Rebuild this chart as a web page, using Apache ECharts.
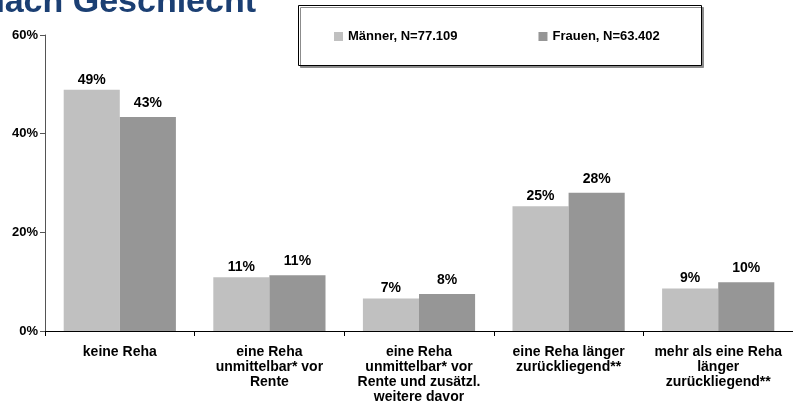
<!DOCTYPE html>
<html>
<head>
<meta charset="utf-8">
<script src="https://cdn.jsdelivr.net/npm/echarts@6/dist/echarts.min.js"></script>
<style>
html,body{margin:0;padding:0;background:#fff;}
#chart{width:793px;height:408px;}
</style>
</head>
<body>
<div id="chart"></div>
<script>
var categories = [
  "keine Reha",
  "eine Reha\nunmittelbar* vor\nRente",
  "eine Reha\nunmittelbar* vor\nRente und zusätzl.\nweitere davor",
  "eine Reha länger\nzurückliegend**",
  "mehr als eine Reha\nlänger\nzurückliegend**"
];
var seriesNames = ["Männer, N=77.109", "Frauen, N=63.402"];
var maenner = [48.9, 10.9, 6.6, 25.3, 8.6];
var frauen = [43.4, 11.3, 7.5, 28.0, 9.9];
var yTicks = [0, 20, 40, 60];
var titleText = "nach Geschlecht";

var FONT = "'Liberation Sans', Arial, sans-serif";
var chart = echarts.init(document.getElementById('chart'), null, {renderer: 'canvas'});

function lbl(dist) {
  return {
    show: true, position: 'top', distance: dist,
    fontFamily: FONT, fontWeight: 'bold', fontSize: 14, color: '#000',
    formatter: function (p) { return Math.round(p.value) + '%'; }
  };
}

var option = {
  animation: false,
  backgroundColor: '#fff',
  textStyle: {fontFamily: FONT},
  graphic: [
    {
      type: 'text', z: 10,
      style: {
        text: titleText, x: 256, y: 20, align: 'right', verticalAlign: 'bottom',
        font: 'bold 34px ' + FONT, fill: '#1b3f73'
      }
    },
    {
      type: 'rect', z: 0,
      shape: {x: 298.5, y: 5.5, width: 403, height: 60},
      style: {fill: '#fff', stroke: '#000', lineWidth: 1,
        shadowColor: '#8c8c8c', shadowOffsetX: 2, shadowOffsetY: 2, shadowBlur: 0}
    }
  ],
  legend: {
    data: seriesNames,
    left: 334, top: 30, z: 20,
    padding: 0,
    itemWidth: 9, itemHeight: 9, itemGap: 81,
    icon: 'rect',
    textStyle: {fontFamily: FONT, fontWeight: 'bold', fontSize: 13, color: '#000', padding: [0, 0, 0, 0]}
  },
  grid: {left: 45, top: 35, width: 753, height: 296, containLabel: false},
  xAxis: {
    type: 'category',
    data: categories,
    axisLine: {lineStyle: {color: '#000', width: 1}},
    axisTick: {show: true, length: 5, lineStyle: {color: '#000'}},
    axisLabel: {
      interval: 0, margin: 14, lineHeight: 15,
      fontFamily: FONT, fontWeight: 'bold', fontSize: 14, color: '#000', align: 'center'
    }
  },
  yAxis: {
    type: 'value', min: 0, max: 60, interval: 20,
    axisLine: {show: true, lineStyle: {color: '#555', width: 1}},
    axisTick: {show: true, length: 5, lineStyle: {color: '#555'}},
    splitLine: {show: false},
    axisLabel: {
      margin: 7, fontFamily: FONT, fontWeight: 'bold', fontSize: 13, color: '#000',
      formatter: function (v) { return yTicks.indexOf(v) >= 0 ? v + '%' : ''; }
    }
  },
  series: [
    {name: seriesNames[0], type: 'bar', data: maenner, barGap: '0%', barCategoryGap: '25%',
      itemStyle: {color: '#c0c0c0'}, label: lbl(3)},
    {name: seriesNames[1], type: 'bar', data: frauen, barGap: '0%', barCategoryGap: '25%',
      itemStyle: {color: '#969696'}, label: lbl(7)}
  ]
};
chart.setOption(option);
</script>
</body>
</html>
